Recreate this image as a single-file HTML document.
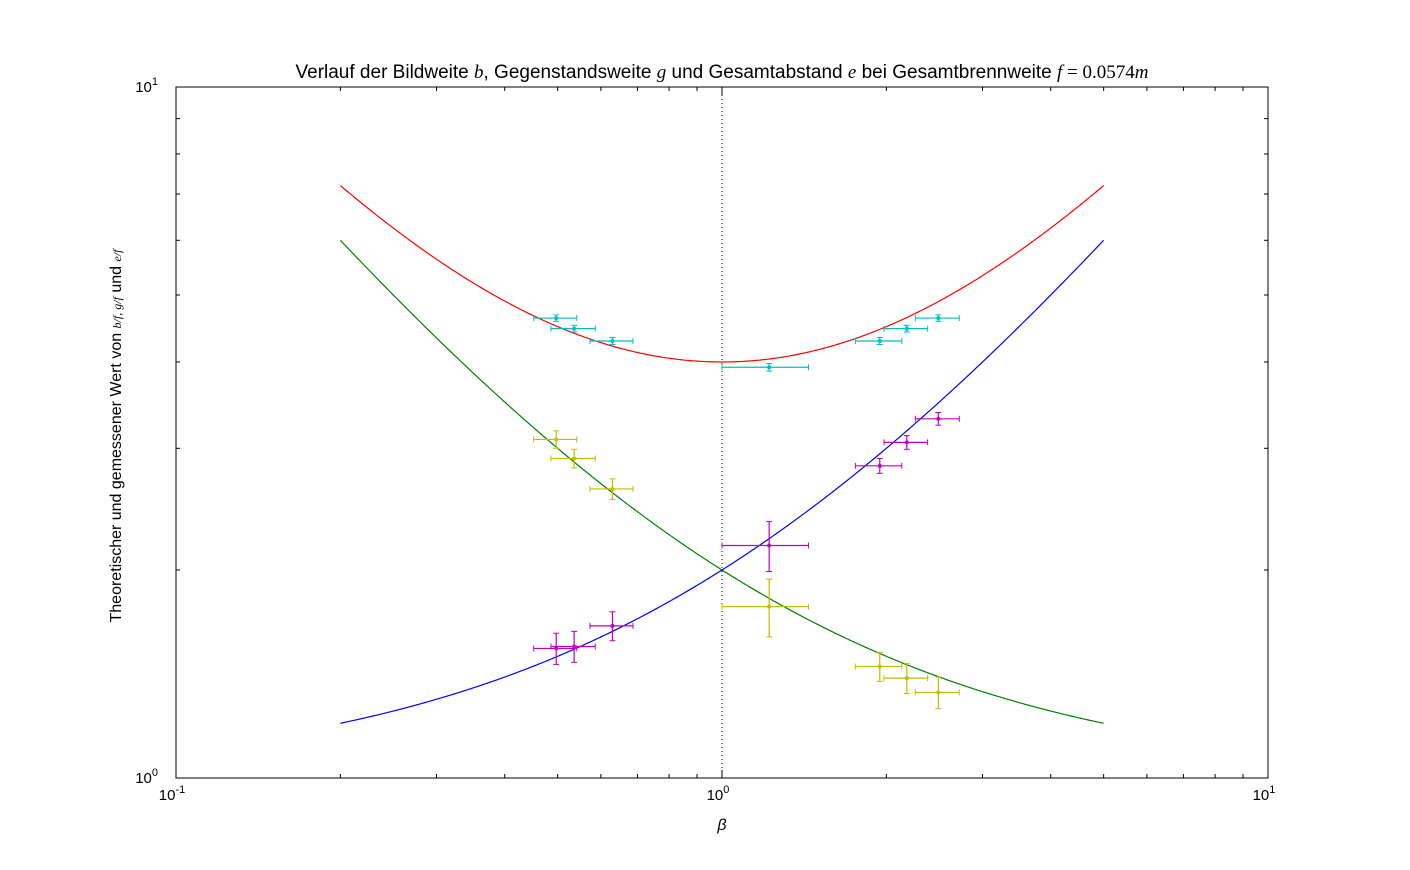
<!DOCTYPE html>
<html><head><meta charset="utf-8"><style>
body{margin:0;background:#fff;}
svg text{font-family:"Liberation Sans",sans-serif;}
</style></head><body>
<svg id="chart" width="1410" height="865" xmlns="http://www.w3.org/2000/svg">
<rect width="1410" height="865" fill="#fff"/>
<g id="plot"></g>
<text x="722" y="78" font-size="19" text-anchor="middle">Verlauf der Bildweite <tspan font-family="Liberation Serif" font-style="italic">b</tspan>, Gegenstandsweite <tspan font-family="Liberation Serif" font-style="italic">g</tspan> und Gesamtabstand <tspan font-family="Liberation Serif" font-style="italic">e</tspan> bei Gesamtbrennweite <tspan font-family="Liberation Serif" font-style="italic">f</tspan><tspan font-family="Liberation Serif"> = 0.0574</tspan><tspan font-family="Liberation Serif" font-style="italic">m</tspan></text>
<text x="722" y="830" font-size="16" font-family="Liberation Serif" font-style="italic" text-anchor="middle">β</text>
<text transform="translate(121,436) rotate(-90)" font-size="16" text-anchor="middle">Theoretischer und gemessener Wert von <tspan font-family="Liberation Serif" font-style="italic" font-size="12">b/f, g/f</tspan> und <tspan font-family="Liberation Serif" font-style="italic" font-size="12">e/f</tspan></text>
</svg>
<script>
const betaMeas=[0.497,0.536,0.63,1.22,1.945,2.18,2.49];
const betaErr=[0.045,0.05,0.057,0.22,0.19,0.2,0.23];
const eMeas=[4.63,4.47,4.29,3.93,4.29,4.47,4.63];
const eErr=[0.05,0.05,0.05,0.05,0.05,0.05,0.05];
const gMeas=[3.09,2.90,2.62,1.77,1.45,1.395,1.33];
const gErr=[0.09,0.09,0.09,0.17,0.07,0.07,0.07];
const bMeas=[1.54,1.55,1.66,2.17,2.83,3.06,3.31];
const bErr=[0.08,0.08,0.08,0.18,0.07,0.07,0.07];
const xTickLabels=["10","10","10"];
const xTickExp=["-1","0","1"];
const yTickExp=["0","1"];

const NS="http://www.w3.org/2000/svg";
const X0=176,X1=1268,Y0=778,Y1=87;
const sx=v=>X0+(Math.log10(v)+1)/2*(X1-X0);
const sy=v=>Y0-Math.log10(v)*(Y0-Y1);
const plot=document.getElementById('plot');
function mk(tag,attrs){const e=document.createElementNS(NS,tag);for(const k in attrs)e.setAttribute(k,attrs[k]);plot.appendChild(e);return e;}

for(let d=-1;d<1;d++)for(let m=1;m<10;m++){
  const v=m*Math.pow(10,d);const x=sx(v);const L=m===1?8:4;
  const t1=mk('line',{x1:x,x2:x,y1:Y0,y2:Y0-L,stroke:'#000'});
  
  
  mk('line',{x1:x,x2:x,y1:Y1,y2:Y1+L,stroke:'#000'});
}
for(let m=1;m<=10;m++){
  const y=sy(m);const L=(m===1||m===10)?8:4;
  const t2=mk('line',{x1:X0,x2:X0+L,y1:y,y2:y,stroke:'#000'});
  
  
  mk('line',{x1:X1,x2:X1-L,y1:y,y2:y,stroke:'#000'});
}
[0.1,1,10].forEach((v,i)=>{
  const t=mk('text',{x:sx(v)-4,y:Y0+22,'font-size':15,'text-anchor':'middle'});
  
  
  t.innerHTML=xTickLabels[i]+'<tspan dy="-7" font-size="11">'+xTickExp[i]+'</tspan>';
});
[1,10].forEach((v,i)=>{
  const t=mk('text',{x:X0-18,y:sy(v)+5,'font-size':15,'text-anchor':'end'});
  
  
  t.innerHTML='10<tspan dy="-7" font-size="11">'+yTickExp[i]+'</tspan>';
});
const vl=mk('line',{x1:sx(1),x2:sx(1),y1:Y1,y2:Y0,stroke:'#000','stroke-dasharray':'1,3'});



function curve(fn,color,name){
  let d='';for(let i=0;i<=300;i++){const b=Math.pow(10,Math.log10(0.2)+i/300*(Math.log10(5)-Math.log10(0.2)));d+=(i?'L':'M')+sx(b).toFixed(2)+','+sy(fn(b)).toFixed(2);}
  const p=mk('path',{d:d,fill:'none',stroke:color,'stroke-width':1.2});
  
  
}
curve(b=>2+b+1/b,'#ff0000','theory-e-curve');
curve(b=>1+1/b,'#008000','theory-g-curve');
curve(b=>1+b,'#0000ff','theory-b-curve');

function series(ys,ye,color,name){
  betaMeas.forEach((b,i)=>{
    const x=sx(b),y=sy(ys[i]);
    const xl=sx(b-betaErr[i]),xr=sx(b+betaErr[i]);
    const yt=sy(ys[i]+ye[i]),yb=sy(ys[i]-ye[i]);
    const g=document.createElementNS(NS,'g');plot.appendChild(g);
    
    
    const a=(t,o)=>{const e=document.createElementNS(NS,t);for(const k in o)e.setAttribute(k,o[k]);g.appendChild(e);};
    a('line',{x1:xl,x2:xr,y1:y,y2:y,stroke:color,'stroke-width':1.2});
    a('line',{x1:x,x2:x,y1:yt,y2:yb,stroke:color,'stroke-width':1.2});
    a('line',{x1:xl,x2:xl,y1:y-3,y2:y+3,stroke:color});
    a('line',{x1:xr,x2:xr,y1:y-3,y2:y+3,stroke:color});
    a('line',{x1:x-3,x2:x+3,y1:yt,y2:yt,stroke:color});
    a('line',{x1:x-3,x2:x+3,y1:yb,y2:yb,stroke:color});
    a('circle',{cx:x,cy:y,r:2,fill:color});
  });
}
series(eMeas,eErr,'#00bfbf','measured-e-point');
series(gMeas,gErr,'#bfbf00','measured-g-point');
series(bMeas,bErr,'#bf00bf','measured-b-point');

const fr=mk('rect',{x:X0,y:Y1,width:X1-X0,height:Y0-Y1,fill:'none',stroke:'#000'});


</script>
</body></html>
